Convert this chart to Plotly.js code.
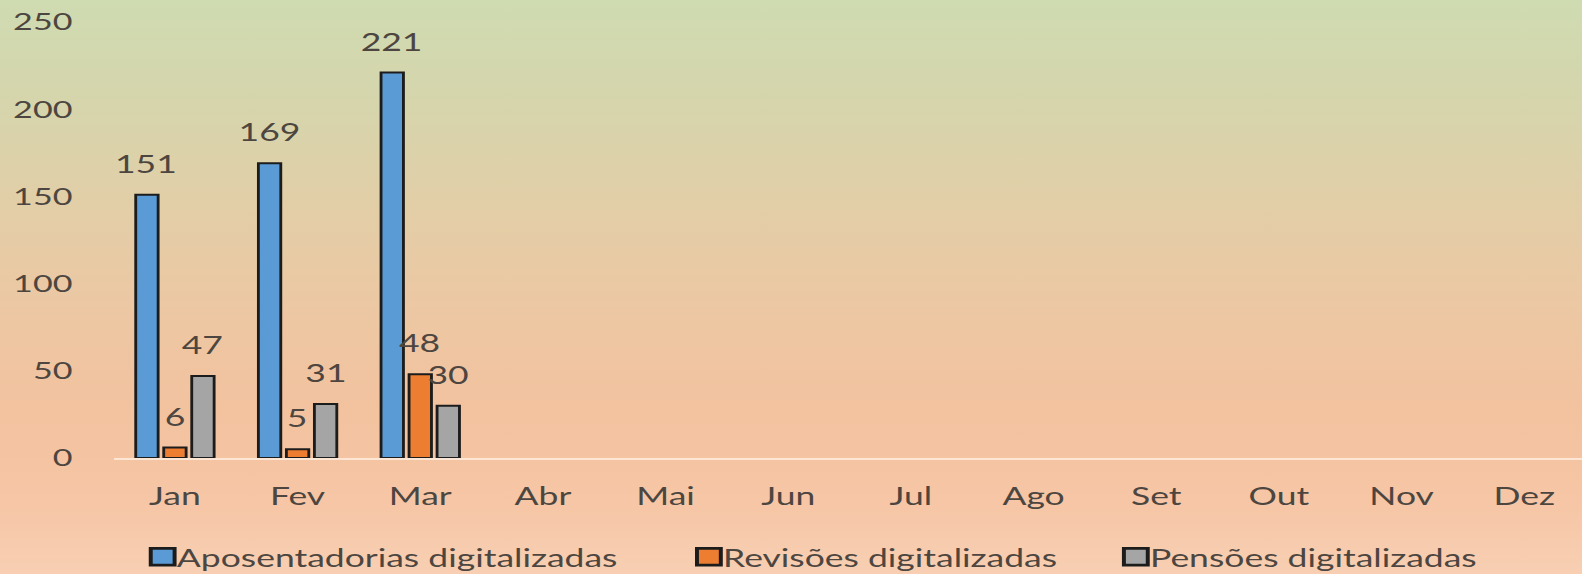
<!DOCTYPE html>
<html>
<head>
<meta charset="utf-8">
<script src="https://cdn.plot.ly/plotly-3.0.1.min.js"></script>
<style>
  html, body { margin: 0; padding: 0; width: 1582px; height: 574px; overflow: hidden; }
  body {
    background: linear-gradient(to bottom, #cfdbb1 0%, #d6d5ac 18%, #e2cea7 36%, #edc7a3 55%, #f3c29f 72%, #f6c6a6 88%, #f8cfb3 100%);
  }
  #chart { width: 1114px; height: 574px; transform: scale(1.42, 1); transform-origin: 0 0; }
</style>
</head>
<body>
<div id="chart"></div>
<script>
// ---- data ----
const months = ['Jan', 'Fev', 'Mar', 'Abr', 'Mai', 'Jun', 'Jul', 'Ago', 'Set', 'Out', 'Nov', 'Dez'];
const aposentadorias = [151, 169, 221, null, null, null, null, null, null, null, null, null];
const revisoes = [6, 5, 48, null, null, null, null, null, null, null, null, null];
const pensoes = [47, 31, 30, null, null, null, null, null, null, null, null, null];
const seriesNames = ['Aposentadorias digitalizadas', 'Revisões digitalizadas', 'Pensões digitalizadas'];
const seriesColors = ['#5b9bd5', '#ed7d31', '#a5a5a5'];
const yTicks = [0, 50, 100, 150, 200, 250];

const FONT = 'Lato, "Open Sans", sans-serif';
const TXT = '#4d4640';
const seriesValues = [aposentadorias, revisoes, pensoes];
const legendIds = ['legend', 'legend2', 'legend3'];
const legendX = [0.0759, 0.4212, 0.6911];

const bargap = 0.315, bargroupgap = 0.2;
const slot = (1 - bargap) / 3;

const traces = seriesValues.map((vals, s) => ({
  type: 'bar',
  name: seriesNames[s],
  x: months,
  y: vals,
  legend: legendIds[s],
  marker: { color: seriesColors[s], line: { color: '#1c1c1c', width: 2 } },
  hoverinfo: 'skip'
}));

// value labels positioned through the axes
const annotations = [];
seriesValues.forEach((vals, s) => {
  vals.forEach((v, i) => {
    if (v === null) return;
    annotations.push({
      x: i + (s - 1) * slot, y: v, xref: 'x', yref: 'y',
      text: String(v), showarrow: false, yanchor: 'middle', yshift: 32,
      font: { family: FONT, size: 25, color: TXT }
    });
  });
});

const layout = {
  width: 1114, height: 574,
  margin: { l: 80, r: 0, t: 22, b: 116 },
  paper_bgcolor: 'rgba(0,0,0,0)', plot_bgcolor: 'rgba(0,0,0,0)',
  barmode: 'group', bargap: bargap, bargroupgap: bargroupgap,
  font: { family: FONT, color: TXT },
  showlegend: true,
  xaxis: {
    type: 'category', range: [-0.5, 11.47], fixedrange: true, automargin: false,
    showgrid: false, zeroline: false, showline: true, linecolor: 'rgba(255,236,222,0.85)', linewidth: 1.5,
    ticks: '', ticklabelstandoff: 16,
    tickfont: { family: FONT, size: 25, color: TXT }
  },
  yaxis: {
    range: [0, 250], fixedrange: true, tickmode: 'array', tickvals: yTicks, automargin: false,
    showgrid: false, zeroline: false, showline: false,
    ticks: '', ticklabelstandoff: 28,
    tickfont: { family: FONT, size: 24, color: TXT }
  },
  annotations: annotations
};
legendIds.forEach((id, s) => {
  layout[id] = {
    orientation: 'h', xref: 'container', yref: 'container',
    x: legendX[s], xanchor: 'left', y: 0.0296, yanchor: 'middle',
    bgcolor: 'rgba(0,0,0,0)', borderwidth: 0,
    font: { family: FONT, size: 25, color: TXT }
  };
});

Plotly.newPlot('chart', traces, layout, { displayModeBar: false, staticPlot: true }).then(() => {
  document.querySelectorAll('.legendpoints path').forEach(p => {
    const t = p.getAttribute('transform') || '';
    const m = /translate\(([-\d.]+)[ ,]*([-\d.]*)\)/.exec(t);
    const tx = m ? parseFloat(m[1]) : 0;
    const ty = m && m[2] ? parseFloat(m[2]) : 0;
    p.setAttribute('transform', 'translate(' + (tx + 10) + ',' + ty + ') scale(1.4)');
  });
});
</script>
</body>
</html>
